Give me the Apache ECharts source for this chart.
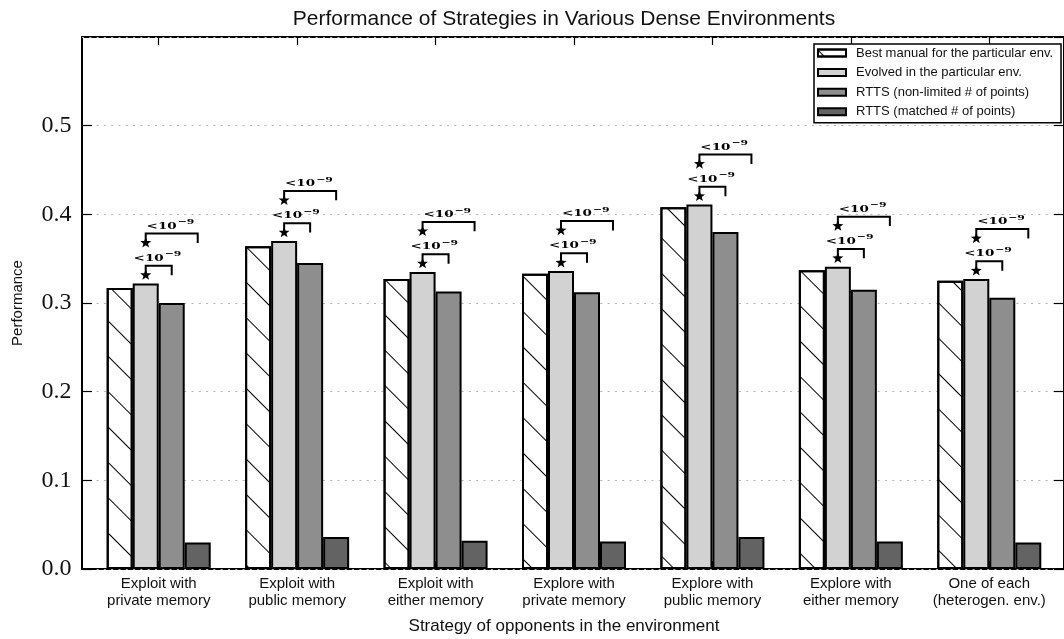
<!DOCTYPE html>
<html>
<head>
<meta charset="utf-8">
<style>
  html, body { margin: 0; padding: 0; background: #fff; }
  #chart { width: 1064px; height: 639px; }
</style>
<script src="https://cdn.jsdelivr.net/npm/echarts@6/dist/echarts.min.js"></script>
</head>
<body>
<div id="chart"></div>
<script>
// Environment categories (opponent strategy)
const categories = [
  'Exploit with\nprivate memory',
  'Exploit with\npublic memory',
  'Exploit with\neither memory',
  'Explore with\nprivate memory',
  'Explore with\npublic memory',
  'Explore with\neither memory',
  'One of each\n(heterogen. env.)'
];

// Series names
const seriesNames = [
  'Best manual for the particular env.',
  'Evolved in the particular env.',
  'RTTS (non-limited # of points)',
  'RTTS (matched # of points)'
];

// Performance values
const bestManual  = [0.317, 0.364, 0.327, 0.333, 0.408, 0.337, 0.325];
const evolved     = [0.322, 0.370, 0.335, 0.336, 0.411, 0.341, 0.327];
const rttsFull    = [0.300, 0.345, 0.313, 0.312, 0.380, 0.315, 0.306];
const rttsMatched = [0.030, 0.036, 0.032, 0.031, 0.036, 0.031, 0.030];

// Significance annotation text (p-value bound)
const pBase = '<10';
const pExp = '\u22129';

// Y axis range and tick step
const yMin = 0, yMax = 0.6, yStep = 0.1;

const BAR_W = 26;                        // bar width in px
const STAR_OFFSETS = [0.0094, 0.0458];   // star height above the evolved bar (data units)
const BRACKET_RISE = 0.0106;             // bracket height above its star (data units)

const chart = echarts.init(document.getElementById('chart'), null, { renderer: 'canvas' });

const sansFont = 'Liberation Sans';
const serifFont = 'Liberation Serif';

function starPoints(cx, cy, R, r) {
  const pts = [];
  for (let k = 0; k < 10; k++) {
    const ang = -Math.PI / 2 + k * Math.PI / 5;
    const rad = k % 2 === 0 ? R : r;
    pts.push([cx + rad * Math.cos(ang), cy + rad * Math.sin(ang)]);
  }
  return pts;
}

function renderSignificance(params, api) {
  const i = api.value(0);
  const top = api.value(1);
  const c = api.coord([i, 0])[0];
  const xStart = c - 0.5 * BAR_W;                   // evolved bar centre
  const ends = [c + 0.5 * BAR_W, c + 1.5 * BAR_W];  // non-limited and matched RTTS bar centres
  const children = [];
  STAR_OFFSETS.forEach(function (off, k) {
    const ys = api.coord([i, top + off])[1];
    const yb = api.coord([i, top + off + BRACKET_RISE])[1];
    const xe = ends[k];
    children.push({
      type: 'polyline',
      shape: { points: [[xStart, ys], [xStart, yb], [xe, yb], [xe, ys]] },
      style: { stroke: '#000', lineWidth: 2, fill: null }
    });
    children.push({
      type: 'polygon',
      shape: { points: starPoints(xStart, ys, 5.8, 2.4) },
      style: { fill: '#000', stroke: null }
    });
    const mid = (xStart + xe) / 2;
    const anchor = mid + 5;
    children.push({
      type: 'text',
      x: anchor, y: yb - 7.5,
      scaleX: 1.35, originX: 0, originY: 0,
      style: {
        text: pBase, fill: '#000', align: 'right', verticalAlign: 'middle',
        font: 'bold 10px "DejaVu Serif"'
      }
    });
    children.push({
      type: 'text',
      x: anchor + 1, y: yb - 11.5,
      scaleX: 1.35, originX: 0, originY: 0,
      style: {
        text: pExp, fill: '#000', align: 'left', verticalAlign: 'middle',
        font: 'bold 8px "DejaVu Serif"'
      }
    });
  });
  return { type: 'group', children: children };
}

const barColors = ['#ffffff', '#d2d2d2', '#8e8e8e', '#636363'];
const seriesData = [bestManual, evolved, rttsFull, rttsMatched];

const barSeries = seriesData.map(function (vals, k) {
  const s = {
    name: seriesNames[k],
    type: 'bar',
    xAxisIndex: 1,
    yAxisIndex: 2,
    data: vals,
    barWidth: BAR_W,
    barGap: '0%',
    itemStyle: { color: barColors[k], borderColor: '#000', borderWidth: 2 },
    emphasis: { disabled: true },
    z: 3
  };
  if (k === 0) {
    s.itemStyle.decal = {
      symbol: 'rect',
      symbolSize: 1,
      color: '#000',
      dashArrayX: [1, 0],
      dashArrayY: [0.9, 24],
      rotation: Math.PI / 4
    };
  }
  return s;
});

const option = {
  animation: false,
  backgroundColor: '#fff',
  grid: [
    { left: 82, top: 37, width: 986, height: 532, show: true, borderColor: '#000', borderWidth: 2, backgroundColor: 'transparent' },
    { left: 89.5, top: 37, width: 969, height: 532 }
  ],
  xAxis: [
    { gridIndex: 0, type: 'value', min: 0, max: 1, show: false },
    {
      gridIndex: 1, type: 'category', data: categories, position: 'bottom',
      axisLine: { show: false },
      axisTick: { show: true, inside: true, length: 8, alignWithLabel: true, lineStyle: { color: '#000', width: 1.2 } },
      axisLabel: { interval: 0, margin: 6, fontFamily: sansFont, fontSize: 15, lineHeight: 17, color: '#111' },
      splitLine: { show: false }
    },
    {
      gridIndex: 1, type: 'category', data: categories, position: 'top',
      axisLine: { show: false },
      axisTick: { show: true, inside: true, length: 8, alignWithLabel: true, lineStyle: { color: '#000', width: 1.2 } },
      axisLabel: { show: false },
      splitLine: { show: false }
    }
  ],
  yAxis: [
    {
      gridIndex: 0, type: 'value', min: yMin, max: yMax, interval: yStep, position: 'left',
      axisLine: { show: false },
      axisTick: { show: true, inside: true, length: 10, lineStyle: { color: '#000', width: 1.2 } },
      axisLabel: {
        margin: 10.5, fontFamily: serifFont, fontSize: 24, color: '#111', showMaxLabel: false,
        formatter: function (v) { return v.toFixed(1); }
      },
      splitLine: { show: true, lineStyle: { color: '#b4b4b4', width: 1, type: [2, 5.3] } }
    },
    {
      gridIndex: 0, type: 'value', min: yMin, max: yMax, interval: yStep, position: 'right',
      axisLine: { show: false },
      axisTick: { show: true, inside: true, length: 10, lineStyle: { color: '#000', width: 1.2 } },
      axisLabel: { show: false },
      splitLine: { show: false }
    },
    { gridIndex: 1, type: 'value', min: yMin, max: yMax, interval: yStep, show: false }
  ],
  legend: {
    orient: 'vertical',
    left: 814, top: 44,
    padding: [2, 8, 4, 3],
    itemWidth: 28, itemHeight: 7, itemGap: 5.6,
    backgroundColor: '#fff', borderColor: '#000', borderWidth: 1.5,
    icon: 'rect',
    selectedMode: false,
    textStyle: { fontFamily: sansFont, fontSize: 13, lineHeight: 14, color: '#111', padding: [0, 0, 0, 5] },
    data: seriesNames,
    z: 10
  },
  graphic: [
    {
      type: 'text', x: 564, y: 19,
      style: {
        text: 'Performance of Strategies in Various Dense Environments',
        font: '21px "Liberation Sans"', fill: '#111', align: 'center', verticalAlign: 'middle'
      }
    },
    {
      type: 'text', x: 564, y: 626,
      style: {
        text: 'Strategy of opponents in the environment',
        font: '17px "Liberation Sans"', fill: '#111', align: 'center', verticalAlign: 'middle'
      }
    },
    {
      type: 'text', x: 18, y: 303, rotation: Math.PI / 2,
      style: {
        text: 'Performance',
        font: '15px "Liberation Sans"', fill: '#111', align: 'center', verticalAlign: 'middle'
      }
    }
  ],
  series: barSeries.concat([
    {
      type: 'custom',
      xAxisIndex: 1,
      yAxisIndex: 2,
      clip: false,
      z: 5,
      silent: true,
      data: evolved.map(function (v, i) { return [i, v]; }),
      renderItem: renderSignificance
    }
  ])
};

chart.setOption(option);
</script>
</body>
</html>
